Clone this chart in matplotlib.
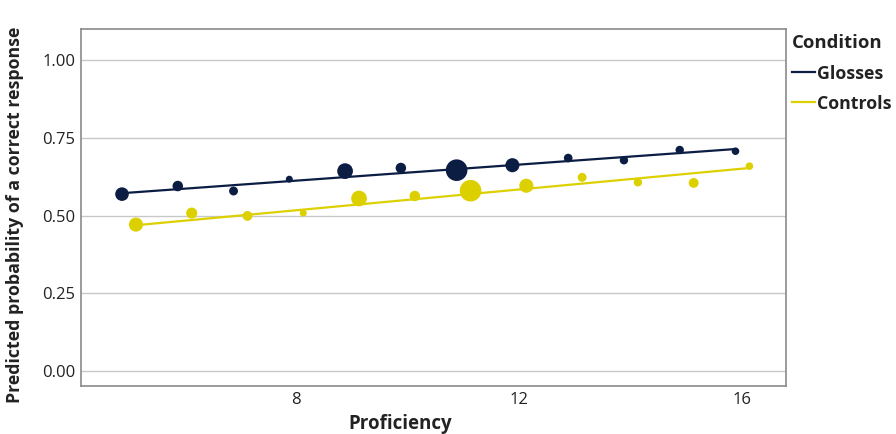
import matplotlib
matplotlib.use("Agg")
import matplotlib.pyplot as plt
import numpy as np
from matplotlib.lines import Line2D

plt.rcParams['font.family'] = ['Open Sans', 'DejaVu Sans']

# Proficiency levels
proficiency = [5, 6, 7, 8, 9, 10, 11, 12, 13, 14, 15, 16]

# Observed proportion correct per proficiency level
glosses_obs = [0.569, 0.595, 0.579, 0.617, 0.643, 0.653, 0.646, 0.662, 0.685, 0.678, 0.711, 0.707]
controls_obs = [0.471, 0.508, 0.499, 0.508, 0.555, 0.563, 0.580, 0.596, 0.623, 0.607, 0.605, 0.659]

# Number of observations per proficiency level (marker area)
glosses_n = [42, 25, 18, 11, 56, 25, 106, 45, 17, 16, 16, 13]
controls_n = [45, 28, 22, 11, 56, 25, 106, 45, 18, 16, 22, 13]

# Model predictions at the lowest and highest proficiency
fit_x = [5, 16]
glosses_fit = [0.572, 0.714]
controls_fit = [0.469, 0.653]

y_ticks = [0.00, 0.25, 0.50, 0.75, 1.00]
x_ticks = [8, 12, 16]

navy = "#0C1D44"
yellow = "#DDD000"
dodge = 0.125

fig = plt.figure(figsize=(8.96, 4.34), dpi=100)
ax = fig.add_axes([0.0904, 0.1106, 0.7868, 0.8226])

px_to_pt = 0.72
def area(n):
    r_px = np.sqrt(np.asarray(n, dtype=float)) * 1.05
    return (2 * r_px * px_to_pt) ** 2

for obs, n, fit, col, off in [
    (glosses_obs, glosses_n, glosses_fit, navy, -dodge),
    (controls_obs, controls_n, controls_fit, yellow, dodge),
]:
    x = np.asarray(proficiency) + off
    ax.scatter(x, obs, s=area(n), color=col, linewidths=0, zorder=3)
    ax.plot(np.asarray(fit_x) + off, fit, color=col, lw=1.6, zorder=2,
            solid_capstyle='butt')

ax.set_xlim(4.14, 16.78)
ax.set_ylim(-0.048, 1.10)
ax.set_yticks(y_ticks)
ax.set_yticklabels([f"{v:.2f}" for v in y_ticks])
ax.set_xticks(x_ticks)
ax.set_xticklabels([str(v) for v in x_ticks])
ax.tick_params(length=0, labelsize=12, colors="#222222", pad=4)
ax.grid(axis='y', color="#C8C8C8", lw=1.0)
ax.grid(axis='x', visible=False)
ax.set_axisbelow(True)
for s in ax.spines.values():
    s.set_color("#8A8A8A")
    s.set_linewidth(1.2)

fig.text(0.4465, 0.046, "Proficiency", ha='center', va='top',
         fontsize=13.5, fontweight='bold', color="#222222")
fig.text(0.017, 0.505, "Predicted probability of a correct response", ha='center',
         va='center', rotation=90, fontsize=12.8, fontweight='bold', color="#222222")

handles = [Line2D([0], [0], color=navy, lw=1.6),
           Line2D([0], [0], color=yellow, lw=1.6)]
leg = fig.legend(handles, ["Glosses", "Controls"], title="Condition",
                 loc='upper left', bbox_to_anchor=(0.876, 0.937),
                 frameon=False, handlelength=1.3, handletextpad=0.1,
                 labelspacing=0.68, borderaxespad=0,
                 prop={'weight': 'bold', 'size': 12.8},
                 title_fontproperties={'weight': 'bold', 'size': 13.3})
leg._legend_box.align = "left"
for t in leg.get_texts():
    t.set_color("#222222")
leg.get_title().set_color("#222222")

fig.savefig("out.png", dpi=100)
